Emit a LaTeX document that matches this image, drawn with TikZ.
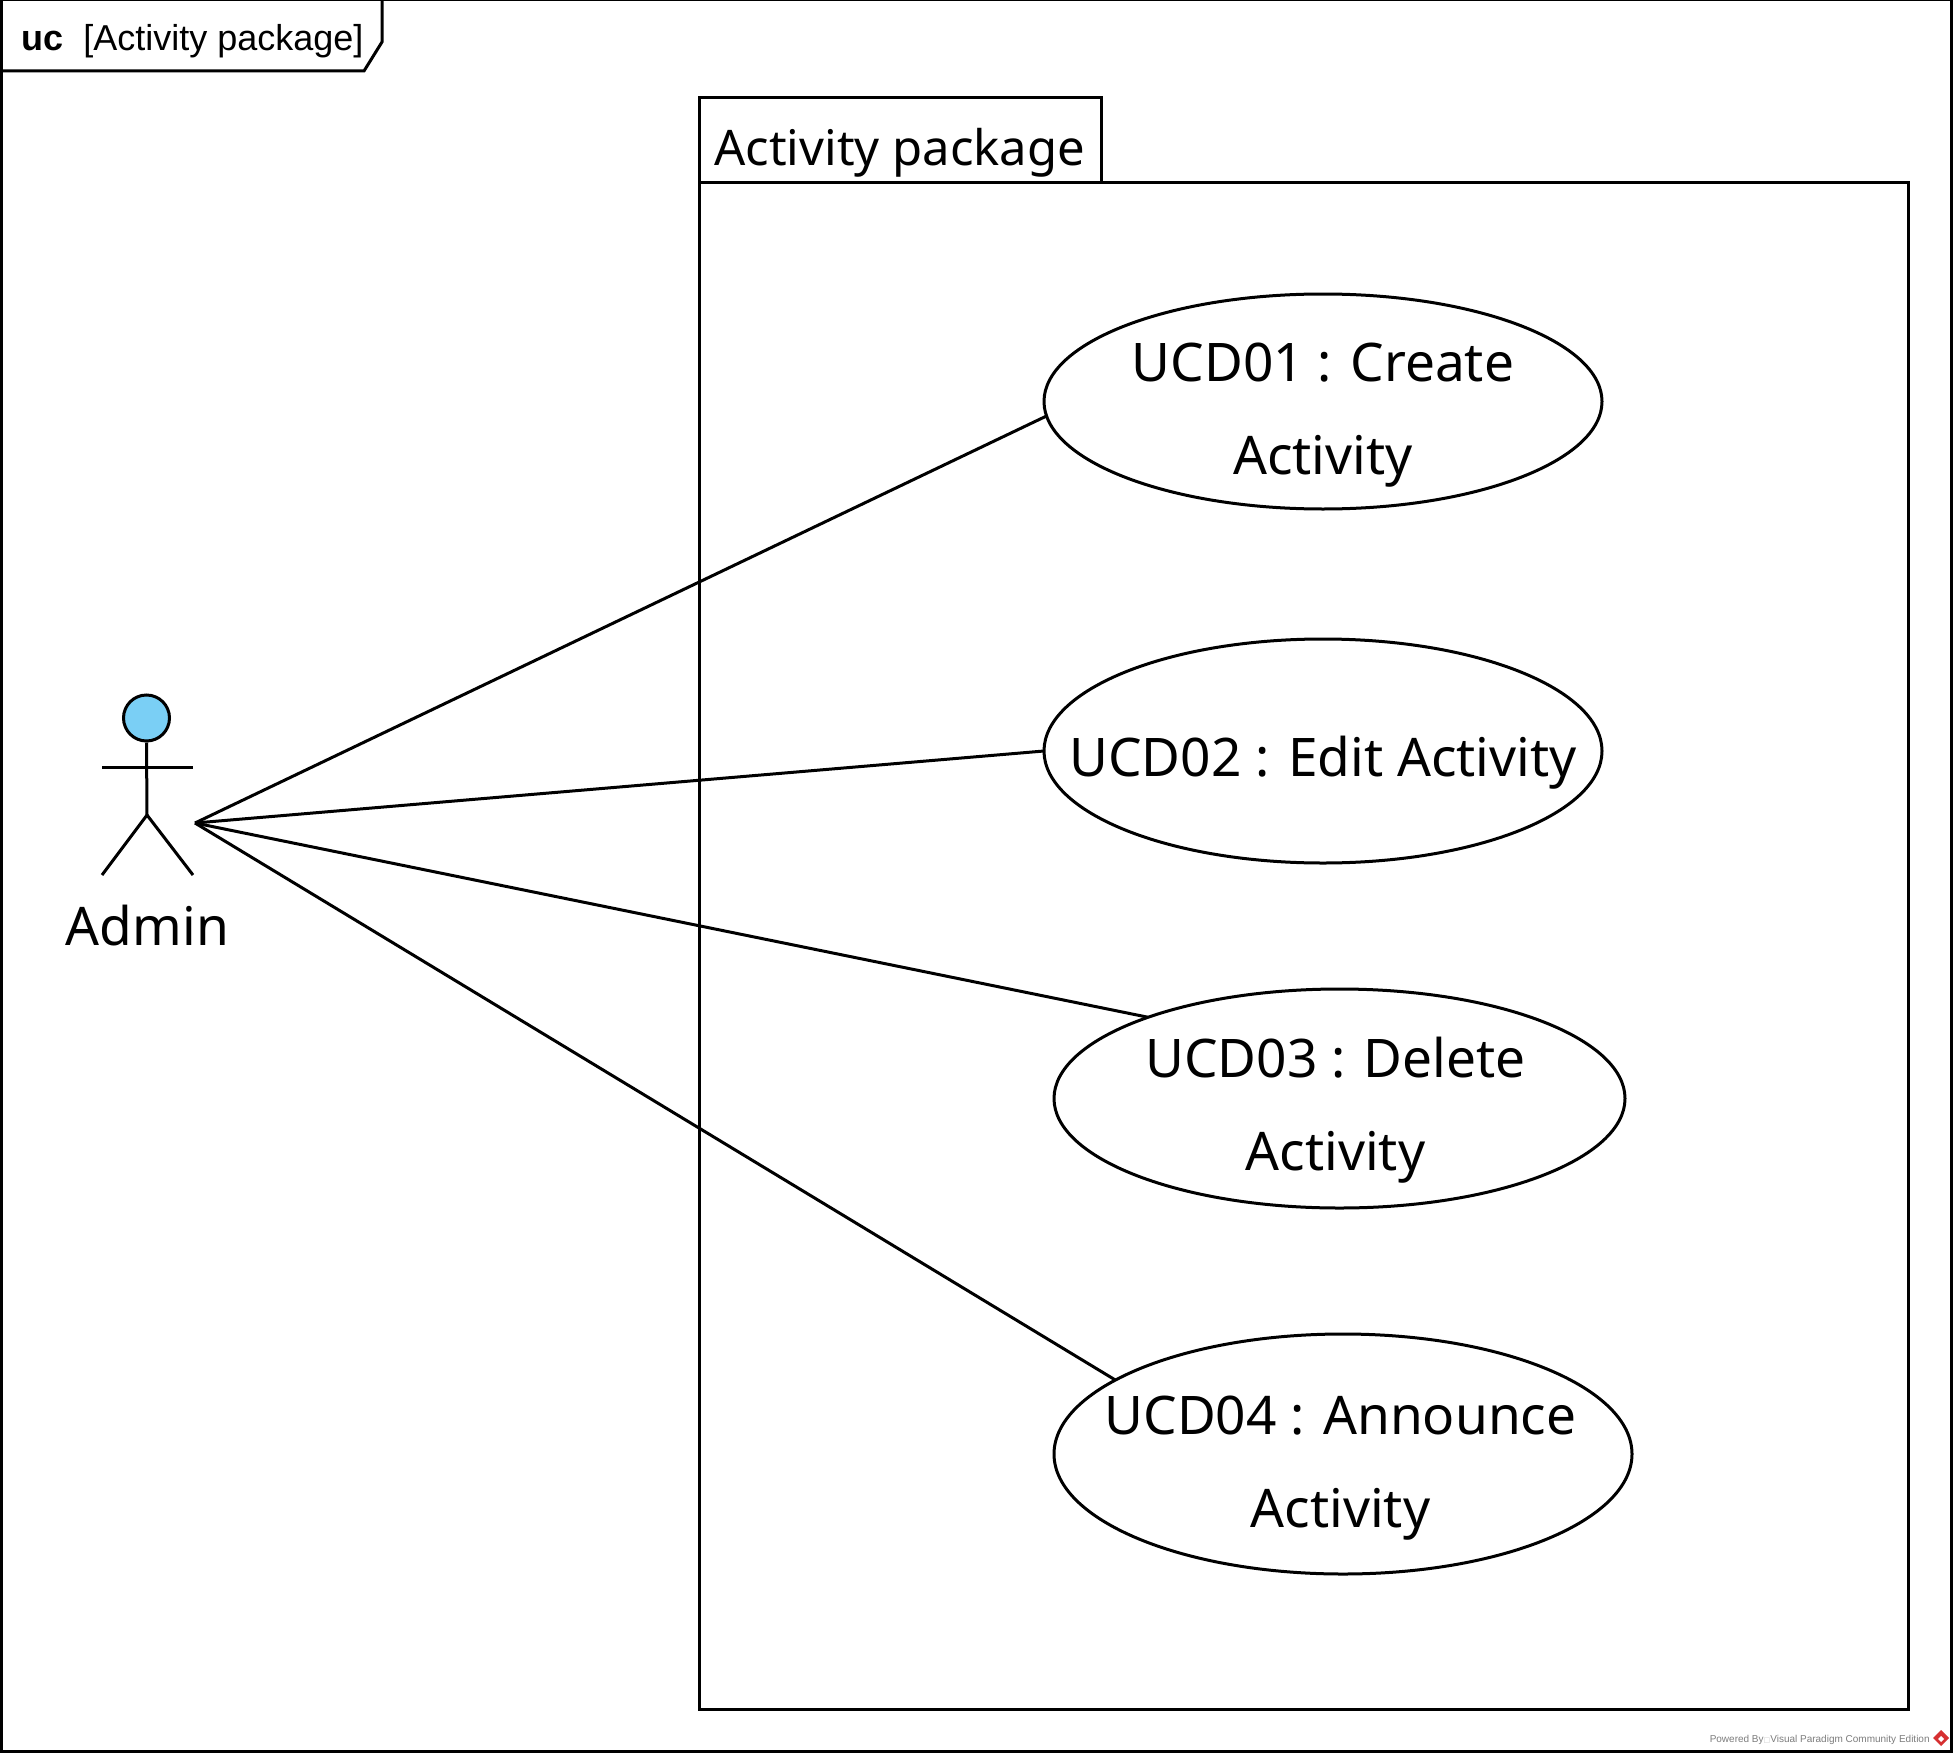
\documentclass[tikz,border=0pt]{standalone}
\usepackage{fontspec}
\usetikzlibrary{shapes.geometric}
\setmainfont{Liberation Sans}
\newfontfamily\ucfont{Noto Sans}
\newfontfamily\dvfont{DejaVu Sans}
\definecolor{actorblue}{RGB}{122,207,245}
\definecolor{vpgray}{RGB}{125,125,125}
\definecolor{vpred}{RGB}{214,48,49}
\newcommand{\uctext}[3][0pt]{\makebox[0pt]{\raisebox{#2}[0pt][0pt]{\hspace*{#1}\begin{tabular}{@{}c@{}}#3\end{tabular}}}}
\tikzset{
 ln/.style={draw=black,line width=1.5pt,line join=miter},
 usecase/.style={ellipse,ln,fill=white,inner sep=0pt,outer sep=0pt,font=\ucfont\fontsize{26.6}{46.5}\selectfont},
 assoc/.style={ln},
 actorpart/.style={ln,line cap=butt},
}
\begin{document}
\begin{tikzpicture}[x=0.5pt,y=-0.5pt]
\useasboundingbox (0,0) rectangle (1953,1755);
\fill[white] (0,0) rectangle (1953,1755);
% frame
\draw[ln] (1,0) -- (1,1751) -- (1951,1751) -- (1951,0) -- cycle;
\draw[ln] (1,71) -- (364,71) -- (382,42) -- (382,0);
\node[anchor=base west,inner sep=0,font=\fontsize{18}{18}\selectfont] (frametitle) at (21,50.5) {\textbf{uc}\hspace{10pt}[Activity package]};
% package
\draw[ln] (699,1709) rectangle (1908,183);
\draw[ln] (699,183) -- (699,98) -- (1101,98) -- (1101,183);
\node[anchor=base west,inner sep=0,font=\ucfont\fontsize{24.5}{24.5}\selectfont] (pkgtitle) at (714,166) {Activity package};
% actor
\node[circle,ln,fill=actorblue,inner sep=0,minimum size=23pt] (head) at (146.5,718) {};
\coordinate (hip) at (147,815);
\coordinate (arml) at (102,767);
\coordinate (armr) at (193,767);
\coordinate (legl) at (102,875);
\coordinate (legr) at (193,875);
\coordinate (port) at (195,823);
\draw[actorpart] (head.south) -- (hip);
\draw[actorpart] (arml) -- (armr);
\draw[actorpart] (legl) -- (hip) -- (legr);
\node[inner sep=0,font=\ucfont\fontsize{26.6}{26.6}\selectfont,anchor=base] (admin) at (147.5,945) {Admin};
% use cases
\node[usecase,minimum width=279pt,minimum height=107.5pt] (uc1) at (1323,401.5) {\uctext{-10pt}{UCD01 : Create\\Activity}};
\node[usecase,minimum width=279pt,minimum height=112pt] (uc2) at (1323,751) {\uctext{-9.5pt}{UCD02 : Edit Activity}};
\node[usecase,minimum width=285.5pt,minimum height=109.5pt] (uc3) at (1339.5,1098.5) {\uctext[-4pt]{-9.5pt}{UCD03 : Delete\\Activity}};
\node[usecase,minimum width=289pt,minimum height=120pt] (uc4) at (1343,1454) {\uctext[-2.5pt]{-10.5pt}{UCD04 : Announce\\Activity}};
\draw[assoc] (port) -- (uc1.183);
\draw[assoc] (port) -- (uc2.180);
\draw[assoc] (port) -- (uc3.157.4);
\draw[assoc] (port) -- (uc4.162.8);
% watermark
\node[anchor=base east,inner sep=0,text=vpgray,font=\fontsize{5}{5}\selectfont] (wm) at (1930,1742) {Powered By{\dvfont\textcolor{vpgray!40}{\fontsize{3.5}{4}\selectfont □}}Visual Paradigm Community Edition};
\fill[vpred] (1941,1730) -- (1949,1738) -- (1941,1746) -- (1933,1738) -- cycle;
\fill[white] (1941,1736) -- (1944,1739) -- (1941,1742) -- (1938,1739) -- cycle;
\end{tikzpicture}
\end{document}
